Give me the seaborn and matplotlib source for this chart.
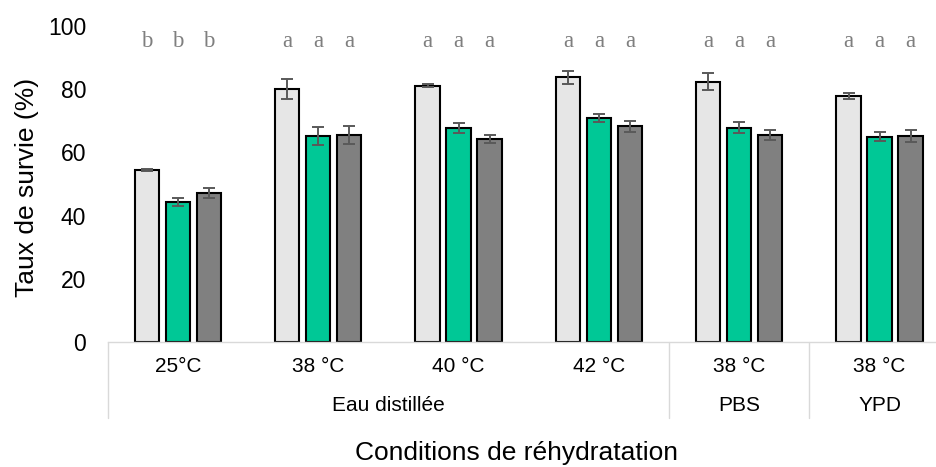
import warnings
warnings.filterwarnings("ignore")

import pandas as pd
import numpy as np

import matplotlib
matplotlib.use("Agg")
import matplotlib.pyplot as plt
import seaborn as sns

########################## Data ##########################

milieux = ["Eau distillée", "Eau distillée", "Eau distillée", "Eau distillée", "PBS", "YPD"]
temperatures = ["25°C", "38 °C", "40 °C", "42 °C", "38 °C", "38 °C"]
series = ["Série 1", "Série 2", "Série 3"]

survie_1 = [54.5, 80.0, 81.1, 83.8, 82.4, 78.0]
survie_2 = [44.3, 65.1, 67.7, 70.9, 67.8, 64.9]
survie_3 = [47.1, 65.6, 64.3, 68.2, 65.5, 65.2]

erreur_1 = [0.4, 3.2, 0.4, 2.1, 2.65, 0.95]
erreur_2 = [1.2, 2.85, 1.6, 1.25, 1.8, 1.45]
erreur_3 = [1.5, 2.85, 1.2, 1.8, 1.6, 1.85]

lettres = ["b", "a", "a", "a", "a", "a"]

couleurs = ["#e6e6e6", "#00c896", "#808080"]

################### Long-form table ##################

conditions = [m + " " + t for m, t in zip(milieux, temperatures)]
df = pd.concat([
    pd.DataFrame({"condition": conditions, "taux": v, "err": e, "serie": s})
    for s, v, e in zip(series, [survie_1, survie_2, survie_3], [erreur_1, erreur_2, erreur_3])
])

################### Plot ##################

sns.set_style("white")
plt.rcParams["font.family"] = ["Liberation Sans", "DejaVu Sans"]
plt.rcParams["text.color"] = "black"
plt.rcParams["ytick.color"] = "black"

fig = plt.figure(figsize=(9.37, 4.67), dpi=100)
ax = fig.add_axes([107.7 / 937, 125 / 467, 842 / 937, 316 / 467])

sns.barplot(data=df, x="condition", y="taux", hue="serie", palette=couleurs,
            order=conditions, hue_order=series, width=0.663, gap=0.22,
            saturation=1, edgecolor="black", linewidth=1.5, errorbar=None,
            legend=False, ax=ax)

# error bars + letters, placed from the bars seaborn drew
for container, s in zip(ax.containers, series):
    sub = df[df.serie == s]
    for bar, err, lettre in zip(container, sub.err, lettres):
        x = bar.get_x() + bar.get_width() / 2
        ax.errorbar(x, bar.get_height(), yerr=err, color="#595959", lw=1.4,
                    capsize=4.2, capthick=1.4, zorder=5)
        ax.text(x, 93.4, lettre, ha="center", va="baseline", fontsize=16.5,
                family=["Liberation Serif"], color="#7f7f7f", clip_on=False)

ax.set_ylim(0, 100)
ax.set_xlim(-0.5, len(conditions) - 0.5)
ax.set_yticks(range(0, 101, 20))
ax.tick_params(axis="y", length=0, pad=15.6, labelsize=16.5, labelcolor="black")
ax.set_xticks([])
ax.set_xlabel("")
ax.set_ylabel("")

for side in ["left", "right", "top"]:
    ax.spines[side].set_visible(False)
ax.spines["bottom"].set_color("#d9d9d9")
ax.spines["bottom"].set_linewidth(1)

# two-level category axis
trans = ax.get_xaxis_transform()
for i, t in enumerate(temperatures):
    ax.annotate(t, xy=(i, 0), xycoords=trans, xytext=(0, -17.8),
                textcoords="offset points", ha="center", va="center", fontsize=15)

pos = pd.Series(range(len(milieux)), index=milieux)
for m in pd.unique(pd.Series(milieux)):
    ax.annotate(m, xy=(pos[m].mean() if np.ndim(pos[m]) else pos[m], 0), xycoords=trans,
                xytext=(0, -46), textcoords="offset points",
                ha="center", va="center", fontsize=15)

bornes = [-0.5] + [i + 0.5 for i in range(len(milieux) - 1) if milieux[i] != milieux[i + 1]] + [len(milieux) - 0.5]
for b in bornes:
    ax.plot([b, b], [0, -0.24], transform=trans, color="#d9d9d9", lw=1, clip_on=False)

fig.text(517 / 937, 1 - 453 / 467, "Conditions de réhydratation", ha="center", va="center", fontsize=19)
fig.text(27 / 937, 1 - 187 / 467, "Taux de survie (%)", ha="center", va="center", rotation=90, fontsize=19)

fig.savefig("out.png", dpi=100)
